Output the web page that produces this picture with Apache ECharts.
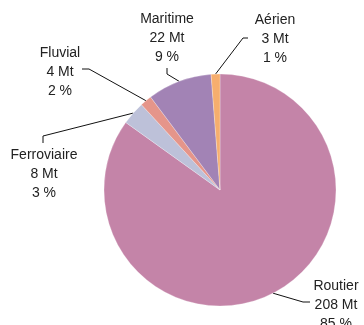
<!DOCTYPE html>
<html>
<head>
<meta charset="utf-8">
<script src="https://cdn.jsdelivr.net/npm/echarts@6/dist/echarts.min.js"></script>
<style>
  html, body { margin: 0; padding: 0; background: #fff; }
  #chart { width: 364px; height: 325px; }
</style>
</head>
<body>
<div id="chart"></div>
<script>
// Freight tonnage by transport mode (millions of tonnes)
const modes = ['Routier', 'Ferroviaire', 'Fluvial', 'Maritime', 'Aérien'];
const tonnage = [208, 8, 4, 22, 3];
const colours = ['#C484A8', '#BDC1D9', '#E5958A', '#A283B5', '#F6AE6E'];

// Where each label block sits, and the elbow of its leader line
const labelSpots = {
  'Routier':     { x: 336, y: 277, elbow: [[303, 302], [310, 302]] },
  'Ferroviaire': { x: 44,  y: 146, elbow: [[43, 136], [43, 143]] },
  'Fluvial':     { x: 60,  y: 44,  elbow: [[89, 69], [82, 69]] },
  'Maritime':    { x: 167, y: 10,  elbow: [[167, 74], [167, 68]] },
  'Aérien':      { x: 275, y: 11,  elbow: [[243, 38], [248, 38]] }
};

const chart = echarts.init(document.getElementById('chart'), null, { renderer: 'canvas' });

chart.setOption({
  animation: false,
  series: [{
    type: 'pie',
    center: [220, 190],
    radius: 116,
    startAngle: 90,
    clockwise: true,
    data: modes.map((m, i) => ({ name: m, value: tonnage[i], itemStyle: { color: colours[i] } })),
    itemStyle: { borderColor: 'rgba(255,255,255,0.5)', borderWidth: 0.5 },
    label: {
      show: true,
      position: 'outside',
      fontFamily: 'Liberation Sans, Arial, sans-serif',
      fontSize: 14,
      lineHeight: 19,
      color: '#222',
      align: 'center',
      formatter: p => p.name + '\n' + p.value + ' Mt\n' + Math.round(p.percent) + ' %'
    },
    labelLine: {
      show: true,
      length: 10,
      length2: 10,
      lineStyle: { color: '#111', width: 1 }
    },
    labelLayout: function (params) {
      const name = modes[params.dataIndex];
      const s = labelSpots[name];
      const edge = params.labelLinePoints ? params.labelLinePoints[0] : [0, 0];
      return {
        x: s.x,
        y: s.y,
        align: 'center',
        verticalAlign: 'top',
        labelLinePoints: [edge, s.elbow[0], s.elbow[1]]
      };
    }
  }]
});
</script>
</body>
</html>
